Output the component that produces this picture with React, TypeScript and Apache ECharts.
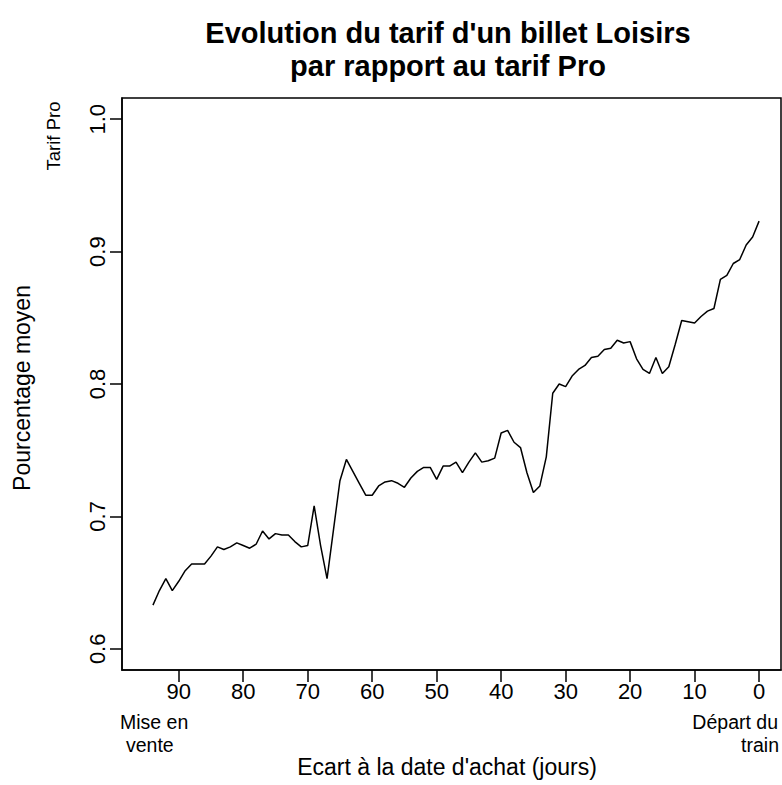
import React, { useEffect, useRef } from "react";
import * as echarts from "echarts";

// Days before departure (x) and mean percentage of the Pro fare (y)
const days: number[] = [
  94, 93, 92, 91, 90, 89, 88, 87, 86, 85, 84, 83, 82, 81, 80, 79, 78, 77, 76, 75,
  74, 73, 72, 71, 70, 69, 68, 67, 66, 65, 64, 63, 62, 61, 60, 59, 58, 57, 56, 55,
  54, 53, 52, 51, 50, 49, 48, 47, 46, 45, 44, 43, 42, 41, 40, 39, 38, 37, 36, 35,
  34, 33, 32, 31, 30, 29, 28, 27, 26, 25, 24, 23, 22, 21, 20, 19, 18, 17, 16, 15,
  14, 13, 12, 11, 10, 9, 8, 7, 6, 5, 4, 3, 2, 1, 0,
];
const values: number[] = [
  0.633, 0.644, 0.653, 0.644, 0.651, 0.659, 0.664, 0.664, 0.664, 0.670,
  0.677, 0.675, 0.677, 0.680, 0.678, 0.676, 0.679, 0.689, 0.683, 0.687,
  0.686, 0.686, 0.681, 0.677, 0.678, 0.708, 0.678, 0.653, 0.690, 0.727,
  0.743, 0.734, 0.725, 0.716, 0.716, 0.723, 0.726, 0.727, 0.725, 0.722,
  0.729, 0.734, 0.737, 0.737, 0.728, 0.738, 0.738, 0.741, 0.733, 0.741,
  0.748, 0.741, 0.742, 0.744, 0.763, 0.765, 0.756, 0.752, 0.733, 0.718,
  0.723, 0.745, 0.793, 0.800, 0.798, 0.806, 0.811, 0.814, 0.820, 0.821,
  0.826, 0.827, 0.833, 0.831, 0.832, 0.819, 0.811, 0.808, 0.820, 0.808,
  0.813, 0.830, 0.848, 0.847, 0.846, 0.851, 0.855, 0.857, 0.879, 0.882,
  0.891, 0.894, 0.905, 0.911, 0.923,
];
const xTicks: number[] = [0, 10, 20, 30, 40, 50, 60, 70, 80, 90];
const yTicks: number[] = [0.6, 0.7, 0.8, 0.9, 1.0];

const titleLines: string[] = [
  "Evolution du tarif d'un billet Loisirs",
  "par rapport au tarif Pro",
];
const xTitle = "Ecart à la date d'achat (jours)";
const yTitle = "Pourcentage moyen";
const yTopNote = "Tarif Pro";
const leftNote: string[] = ["Mise en", "vente"];
const rightNote: string[] = ["Départ du", "train"];

const FONT = "'Liberation Sans', Arial, Helvetica, sans-serif";

export default function App() {
  const ref = useRef<HTMLDivElement>(null);

  useEffect(() => {
    if (!ref.current) return;
    const chart = echarts.init(ref.current, null, { renderer: "svg" });
    const data = days.map((d, i) => [d, values[i]]);
    const txt = (
      text: string,
      x: number,
      y: number,
      fontSize: number,
      align: string,
      extra: any = {}
    ) => ({
      type: "text",
      x,
      y,
      ...extra,
      style: {
        text,
        fontSize,
        fontFamily: FONT,
        fill: "#000",
        align,
        verticalAlign: "middle",
        fontWeight: extra.bold ? "bold" : "normal",
      },
    });
    chart.setOption({
      animation: false,
      backgroundColor: "#ffffff",
      grid: {
        left: 122,
        right: 1,
        top: 98,
        bottom: 115,
        show: true,
        borderColor: "#000",
        borderWidth: 1.5,
        backgroundColor: "transparent",
      },
      xAxis: {
        type: "value",
        inverse: true,
        min: -3.4,
        max: 98.8,
        splitLine: { show: false },
        axisLine: { show: true, onZero: false, lineStyle: { color: "#000", width: 1.5 } },
        axisTick: {
          show: true,
          length: 12,
          customValues: xTicks,
          lineStyle: { color: "#000", width: 1.5 },
        },
        axisLabel: {
          customValues: xTicks,
          color: "#000",
          fontSize: 22,
          fontFamily: FONT,
          margin: 10,
          formatter: (v: number) => String(v),
        },
      },
      yAxis: {
        type: "value",
        min: 0.584,
        max: 1.016,
        splitLine: { show: false },
        axisLine: { show: true, onZero: false, lineStyle: { color: "#000", width: 1.5 } },
        axisTick: {
          show: true,
          length: 12,
          customValues: yTicks,
          lineStyle: { color: "#000", width: 1.5 },
        },
        axisLabel: {
          customValues: yTicks,
          color: "#000",
          fontSize: 22,
          fontFamily: FONT,
          rotate: 90,
          margin: 14,
          formatter: (v: number) => v.toFixed(1),
        },
      },
      series: [
        {
          type: "line",
          data,
          symbol: "none",
          lineStyle: { color: "#000", width: 1.5 },
          silent: true,
        },
      ],
      graphic: [
        txt(titleLines[0], 448, 33, 29, "center", { bold: true }),
        txt(titleLines[1], 448, 66, 29, "center", { bold: true }),
        txt(yTitle, 22, 388, 23, "center", { rotation: Math.PI / 2 }),
        txt(yTopNote, 53, 136, 18.5, "center", { rotation: Math.PI / 2 }),
        txt(xTitle, 447, 767, 23, "center"),
        txt(leftNote[0], 120, 722, 19.5, "left"),
        txt(leftNote[1], 126, 745, 19.5, "left"),
        txt(rightNote[0], 778, 722, 19.5, "right"),
        txt(rightNote[1], 779, 745, 19.5, "right"),
      ],
    });
    return () => chart.dispose();
  }, []);

  return (
    <div
      ref={ref}
      style={{
        position: "absolute",
        left: 0,
        top: 0,
        width: 782,
        height: 785,
        background: "#fff",
      }}
    />
  );
}
